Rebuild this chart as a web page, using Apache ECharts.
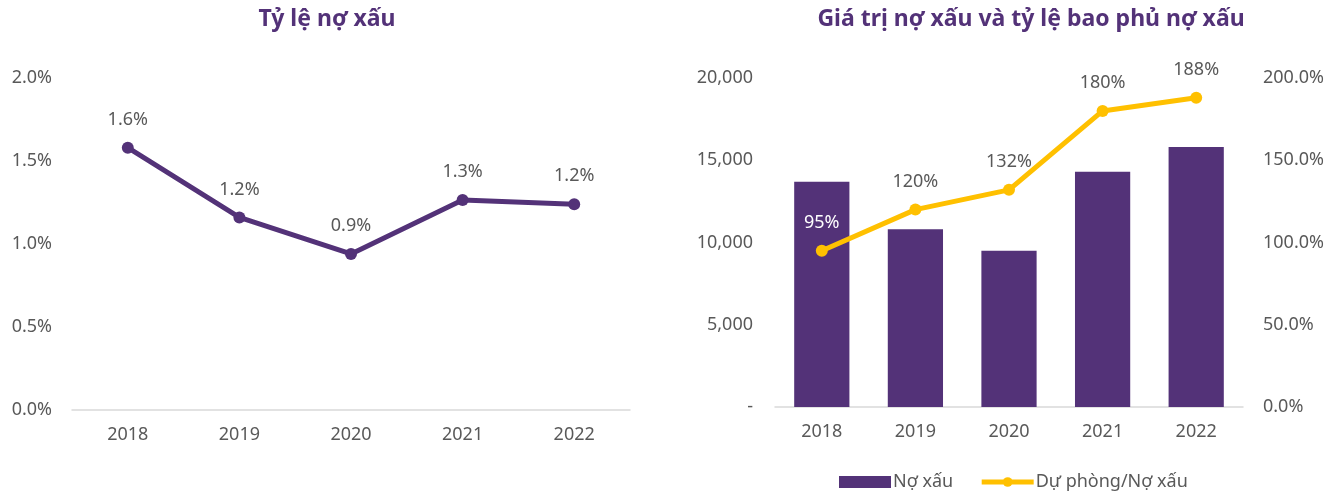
<!DOCTYPE html>
<html>
<head>
<meta charset="utf-8">
<script src="https://cdn.jsdelivr.net/npm/echarts@6/dist/echarts.min.js"></script>
<style>
html,body{margin:0;padding:0;background:#fff;}
#c{width:1343px;height:495px;}
</style>
</head>
<body>
<div id="c"></div>
<script>
const years = ['2018','2019','2020','2021','2022'];
const nplRatio = [1.58, 1.16, 0.94, 1.265, 1.24];
const nplValue = [13700, 10800, 9500, 14300, 15800];
const coverage = [95, 120, 132, 180, 188];
const leftTitle = 'Tỷ lệ nợ xấu';
const rightTitle = 'Giá trị nợ xấu và tỷ lệ bao phủ nợ xấu';
const seriesNames = ['Nợ xấu', 'Dự phòng/Nợ xấu'];

const PURPLE = '#533278';
const GOLD = '#FFC000';
const TXT = '#595959';
const FONT = '"Noto Sans", sans-serif';

const chart = echarts.init(document.getElementById('c'), null, {renderer:'canvas'});
const axisLabelBase = {color: TXT, fontSize: 18, fontFamily: FONT};
const option = {
  animation: false,
  backgroundColor: '#fff',
  title: [
    {text: leftTitle, left: 322, top: 3, textAlign: 'center',
     textStyle: {color: PURPLE, fontSize: 23, fontWeight: 'bold', fontFamily: FONT}},
    {text: rightTitle, left: 1026, top: 3, textAlign: 'center',
     textStyle: {color: PURPLE, fontSize: 23, fontWeight: 'bold', fontFamily: FONT}}
  ],
  legend: {
    left: 834, top: 468, itemWidth: 52, itemHeight: 12, itemGap: 26,
    textStyle: {color: TXT, fontSize: 18, fontFamily: FONT, padding: [0,0,0,-3]},
    data: [
      {name: seriesNames[0], icon: 'rect'},
      {name: seriesNames[1], lineStyle: {width: 5, color: GOLD}}
    ]
  },
  grid: [
    {left: 72, right: 713, top: 78, bottom: 85},
    {left: 775, right: 100, top: 78, bottom: 88}
  ],
  xAxis: [
    {type: 'category', gridIndex: 0, data: years,
     axisLine: {lineStyle: {color: '#d9d9d9', width: 1.5}},
     axisTick: {show: false},
     axisLabel: Object.assign({margin: 16}, axisLabelBase)},
    {type: 'category', gridIndex: 1, data: years,
     axisLine: {lineStyle: {color: '#d9d9d9', width: 1.5}},
     axisTick: {show: false},
     axisLabel: Object.assign({margin: 16}, axisLabelBase)}
  ],
  yAxis: [
    {type: 'value', gridIndex: 0, min: 0, max: 2, interval: 0.5,
     splitLine: {show: false}, axisLine: {show: false}, axisTick: {show: false},
     axisLabel: Object.assign({margin: 20, formatter: v => v.toFixed(1) + '%'}, axisLabelBase)},
    {type: 'value', gridIndex: 1, min: 0, max: 20000, interval: 5000,
     splitLine: {show: false}, axisLine: {show: false}, axisTick: {show: false},
     axisLabel: Object.assign({margin: 22, formatter: v => v === 0 ? '-' : v.toLocaleString('en-US')}, axisLabelBase)},
    {type: 'value', gridIndex: 1, position: 'right', min: 0, max: 200, interval: 50,
     splitLine: {show: false}, axisLine: {show: false}, axisTick: {show: false},
     axisLabel: Object.assign({margin: 20, formatter: v => v.toFixed(1) + '%'}, axisLabelBase)}
  ],
  series: [
    {type: 'line', xAxisIndex: 0, yAxisIndex: 0, data: nplRatio,
     lineStyle: {color: PURPLE, width: 5}, itemStyle: {color: PURPLE},
     symbol: 'circle', symbolSize: 12,
     label: {show: true, position: 'top', distance: 13, color: TXT, fontSize: 18, fontFamily: FONT,
             formatter: p => p.value.toFixed(1) + '%'}},
    {name: seriesNames[0], type: 'bar', xAxisIndex: 1, yAxisIndex: 1, data: nplValue,
     barWidth: '59%', itemStyle: {color: PURPLE}},
    {name: seriesNames[1], type: 'line', xAxisIndex: 1, yAxisIndex: 2,
     data: coverage.map((v, i) => i === 0 ? {value: v, label: {color: '#ffffff'}} : v),
     lineStyle: {color: GOLD, width: 5}, itemStyle: {color: GOLD},
     symbol: 'circle', symbolSize: 12, z: 5,
     label: {show: true, position: 'top', distance: 13, color: TXT, fontSize: 18, fontFamily: FONT,
             formatter: p => Math.round(p.value) + '%'}}
  ]
};
chart.setOption(option);
</script>
</body>
</html>
